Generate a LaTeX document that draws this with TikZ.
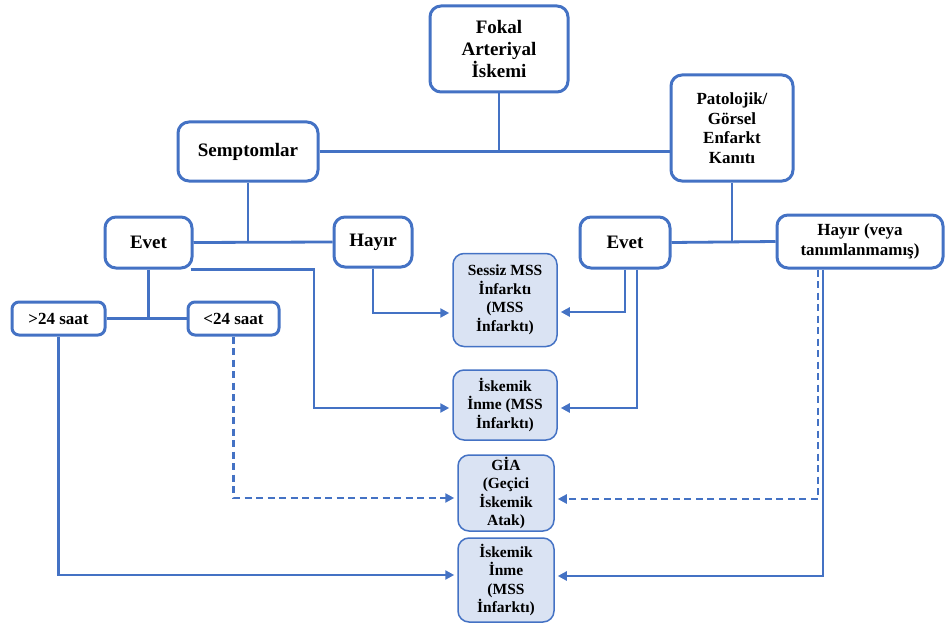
\documentclass[tikz,border=0pt]{standalone}
\usepackage{fontspec}
\setmainfont{Liberation Serif}
\usetikzlibrary{arrows.meta,calc}
\definecolor{lineblue}{RGB}{68,114,196}
\definecolor{boxfill}{RGB}{218,227,243}
\begin{document}
\begin{tikzpicture}[x=1pt,y=-1pt,
  mainbox/.style={draw=lineblue,line width=3pt,rounded corners=11pt,fill=white,
    align=center,inner sep=0pt,font=\bfseries\fontsize{19}{22}\selectfont},
  smallbox/.style={mainbox,font=\bfseries\fontsize{17}{19.5}\selectfont},
  outbox/.style={draw=lineblue,line width=1.5pt,rounded corners=11pt,fill=boxfill,
    align=center,inner sep=0pt,font=\bfseries\fontsize{15.5}{18.5}\selectfont},
  conn/.style={draw=lineblue,line width=2.8pt},
  arr/.style={conn,-{Triangle[length=9pt,width=9pt]},shorten >=3pt},
  darr/.style={arr,dash pattern=on 7pt off 4.5pt}]
\useasboundingbox (0,0) rectangle (945,623);

% boxes
\node[mainbox,minimum width=138pt,minimum height=86pt] (fokal) at (499,49) {Fokal\\Arteriyal\\İskemi};
\node[smallbox,minimum width=122pt,minimum height=106pt] (pato) at (732,128) {Patolojik/\\Görsel\\Enfarkt\\Kanıtı};
\node[mainbox,minimum width=140pt,minimum height=59pt] (semp) at (248,151.5) {Semptomlar};
\node[mainbox,minimum width=87pt,minimum height=51pt] (evetL) at (148.5,242.5) {Evet};
\node[mainbox,minimum width=78pt,minimum height=50pt] (hayirL) at (373,242) {Hayır};
\node[smallbox,minimum width=93pt,minimum height=33pt,rounded corners=7pt] (gt) at (58.5,318.5) {>24 saat};
\node[smallbox,minimum width=91pt,minimum height=33pt,rounded corners=7pt] (lt) at (233.5,318.5) {<24 saat};
\node[mainbox,minimum width=90pt,minimum height=51pt] (evetR) at (625,242.5) {Evet};
\node[smallbox,minimum width=166pt,minimum height=53pt] (hayirR) at (860,241.5) {Hayır (veya\\tanımlanmamış)};

\node[outbox,minimum width=104pt,minimum height=93pt] (sessiz) at (505,300) {Sessiz MSS\\İnfarktı\\(MSS\\İnfarktı)};
\node[outbox,minimum width=104pt,minimum height=70pt] (isk1) at (505,405) {İskemik\\İnme (MSS\\İnfarktı)};
\node[outbox,minimum width=96pt,minimum height=76pt] (gia) at (506,493) {GİA\\(Geçici\\İskemik\\Atak)};
\node[outbox,minimum width=96pt,minimum height=84pt] (isk2) at (506,580) {İskemik\\İnme\\(MSS\\İnfarktı)};

% bend coordinates
\coordinate (bL) at (314,408);
\coordinate (bR2) at (637,408);
\coordinate (hR1) at (818,499);
\coordinate (hR2) at (823,576);

% tree connectors
\draw[conn] (fokal.south) -- (fokal.south |- semp.east);
\draw[conn] (semp.east) -- (semp.east -| pato.west);
\draw[conn] (semp.south) -- (semp.south |- evetL.east);
\draw[conn] (evetL.east) -- (hayirL.west);
\draw[conn] (evetL.south) -- (evetL.south |- gt.east);
\draw[conn] (gt.east) -- (lt.west);
\draw[conn] (pato.south) -- (pato.south |- evetR.east);
\draw[conn] (evetR.east) -- (hayirR.west);

% arrows left
\draw[arr] ([xshift=-3pt]evetL.south east) -| (bL) -- (bL -| isk1.west);
\draw[arr] (hayirL.south) |- ($(sessiz.west)+(0,13)$);
\draw[arr] (gt.south) |- ($(isk2.west)+(0,-5)$);
\draw[darr] (lt.south) |- ($(gia.west)+(0,5)$);

% arrows right
\draw[arr] (evetR.south) |- ($(sessiz.east)+(0,12)$);
\draw[arr] (evetR.south -| bR2) -- (bR2) -- (bR2 -| isk1.east);
\draw[darr] (hayirR.south -| hR1) -- (hR1) -- (hR1 -| gia.east);
\draw[arr] (hayirR.south -| hR2) -- (hR2) -- (hR2 -| isk2.east);
\end{tikzpicture}
\end{document}
